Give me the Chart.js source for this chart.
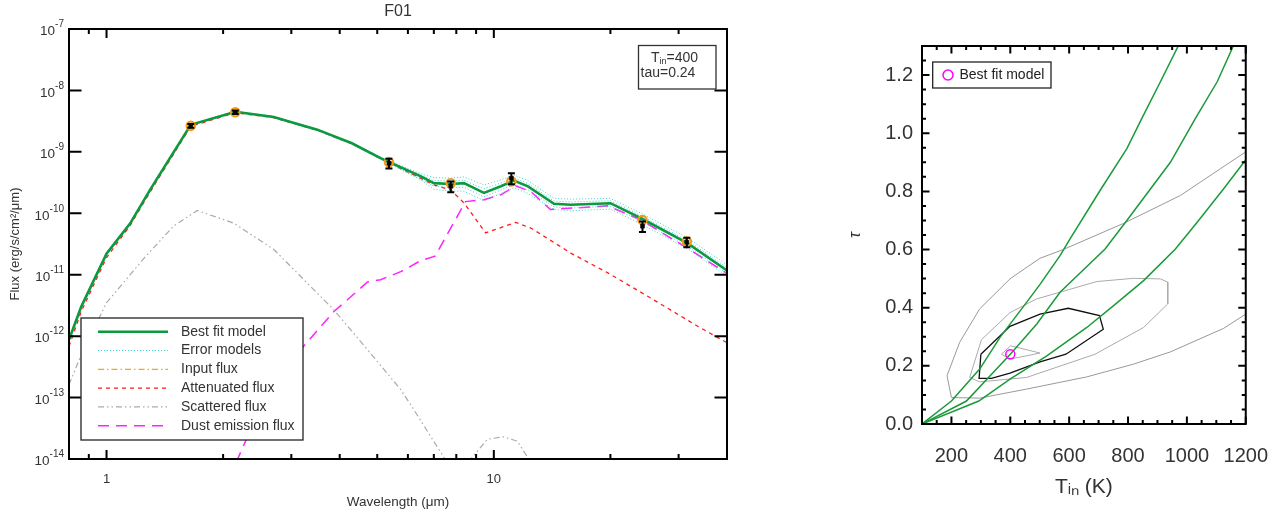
<!DOCTYPE html>
<html>
<head>
<meta charset="utf-8">
<script src="https://cdn.jsdelivr.net/npm/chart.js@4.4.0/dist/chart.umd.min.js"></script>
<style>
  body { margin: 0; background: #fff; width: 1288px; height: 512px; overflow: hidden; position: relative; }
  #sedBox { position: absolute; left: 0; top: 0; width: 740px; height: 512px; }
  #gridBox { position: absolute; left: 840px; top: 0; width: 448px; height: 512px; }
</style>
</head>
<body>
<div id="sedBox"><canvas id="sedChart" width="740" height="512"></canvas></div>
<div id="gridBox"><canvas id="gridChart" width="448" height="512"></canvas></div>
<script>
const FONT = '"Liberation Sans", Arial, sans-serif';
const TXT = '#333';

// ---- SED panel (F01) ----
// photometry: observed points and model photometry
const obsWave = [1.65, 2.15, 5.36, 7.74, 11.1, 24.2, 31.5];
const obsFlux = [2.65e-9, 4.42e-9, 6.55e-10, 2.75e-10, 3.72e-10, 6.17e-11, 3.39e-11];
const obsErr = [0.18e-9, 0.3e-9, 1.2e-10, 0.55e-10, 0.75e-10, 1.2e-11, 0.6e-11];
const modelPhot = [2.65e-9, 4.42e-9, 6.8e-10, 3.09e-10, 3.31e-10, 7.76e-11, 3.47e-11];

// best fit model and error models
const fitWave = [0.8, 0.86, 1.0, 1.15, 1.3, 1.65, 2.15, 2.7, 3.5, 4.3, 5.1, 6.48, 7.0, 7.74, 8.37, 9.43, 10.43, 11.27, 12.25, 14.3, 15.8, 20.0, 24.0, 31.6, 40];
const bestFit = [8.7e-13, 3.0e-12, 2.2e-11, 6.8e-11, 2.5e-10, 2.75e-9, 4.5e-9, 3.7e-9, 2.3e-9, 1.38e-9, 7.9e-10, 4.0e-10, 3.1e-10, 3.0e-10, 3.1e-10, 2.15e-10, 2.75e-10, 3.4e-10, 2.75e-10, 1.43e-10, 1.38e-10, 1.46e-10, 8.3e-11, 3.27e-11, 1.17e-11];
const inputFlux = [8.6e-13, 3.0e-12, 2.2e-11, 6.8e-11, 2.5e-10, 2.74e-9, 4.5e-9, 3.7e-9, 2.3e-9, 1.38e-9, 7.9e-10, 4.0e-10, 3.1e-10, 3.0e-10, 3.1e-10, 2.15e-10, 2.75e-10, 3.4e-10, 2.75e-10, 1.43e-10, 1.38e-10, 1.46e-10, 8.3e-11, 3.27e-11, 1.17e-11];
const errModel1 = [9.0e-13, 3.1e-12, 2.3e-11, 7.0e-11, 2.6e-10, 2.8e-9, 4.6e-9, 3.8e-9, 2.35e-9, 1.42e-9, 8.2e-10, 4.4e-10, 3.8e-10, 3.75e-10, 3.9e-10, 2.9e-10, 3.5e-10, 4.2e-10, 3.4e-10, 1.75e-10, 1.7e-10, 1.75e-10, 1.0e-10, 4.0e-11, 1.45e-11];
const errModel2 = [8.8e-13, 3.0e-12, 2.25e-11, 6.9e-11, 2.55e-10, 2.78e-9, 4.55e-9, 3.75e-9, 2.32e-9, 1.4e-9, 8.05e-10, 4.2e-10, 3.4e-10, 3.35e-10, 3.45e-10, 2.5e-10, 3.1e-10, 3.75e-10, 3.05e-10, 1.58e-10, 1.53e-10, 1.6e-10, 9.1e-11, 3.6e-11, 1.3e-11];
const errModel3 = [8.5e-13, 2.9e-12, 2.15e-11, 6.7e-11, 2.45e-10, 2.72e-9, 4.45e-9, 3.65e-9, 2.27e-9, 1.36e-9, 7.75e-10, 3.6e-10, 2.75e-10, 2.6e-10, 2.65e-10, 1.85e-10, 2.4e-10, 2.95e-10, 2.4e-10, 1.27e-10, 1.22e-10, 1.3e-10, 7.4e-11, 2.9e-11, 1.05e-11];
const errModel4 = [8.3e-13, 2.85e-12, 2.1e-11, 6.6e-11, 2.4e-10, 2.7e-9, 4.4e-9, 3.6e-9, 2.25e-9, 1.34e-9, 7.6e-10, 3.5e-10, 2.45e-10, 2.3e-10, 2.3e-10, 1.6e-10, 2.1e-10, 2.6e-10, 2.1e-10, 1.15e-10, 1.1e-10, 1.17e-10, 6.7e-11, 2.65e-11, 9.5e-12];

// attenuated stellar flux
const attWave = [0.8, 0.86, 1.0, 1.15, 1.3, 1.65, 2.15, 2.7, 3.5, 4.3, 5.1, 6.48, 7.0, 7.74, 8.37, 9.53, 11.38, 12.46, 15.8, 19.7, 24.9, 33.6, 40];
const attFlux = [6.8e-13, 2.5e-12, 1.9e-11, 6.3e-11, 2.3e-10, 2.6e-9, 4.35e-9, 3.6e-9, 2.25e-9, 1.35e-9, 7.8e-10, 3.7e-10, 2.9e-10, 2.4e-10, 1.48e-10, 4.8e-11, 7.1e-11, 5.75e-11, 2.25e-11, 1.07e-11, 4.5e-12, 1.45e-12, 7.8e-13];

// scattered flux
const scatWave = [0.8, 0.857, 1.0, 1.25, 1.49, 1.715, 2.13, 2.7, 3.86, 4.72, 5.75, 6.22, 7.44, 8.0, 8.72, 9.63, 10.6, 11.5, 12.3, 13.0];
const scatFlux = [1.62e-13, 4.7e-13, 3.5e-12, 1.86e-11, 6.2e-11, 1.11e-10, 6.9e-11, 2.6e-11, 2.7e-12, 6.0e-13, 1.35e-13, 6.3e-14, 1.05e-14, 4.0e-15, 1.0e-14, 2.1e-14, 2.3e-14, 1.95e-14, 1.0e-14, 4.0e-15];

// dust emission flux
const dustWave = [2.0, 2.18, 2.4, 3.17, 3.86, 4.72, 5.1, 5.75, 6.48, 7.05, 8.45, 9.43, 10.43, 11.38, 12.46, 14.0, 16.1, 19.7, 24.0, 31.6, 40];
const dustFlux = [2.5e-15, 1.0e-14, 3.9e-14, 6.0e-13, 2.5e-12, 7.6e-12, 8.3e-12, 1.12e-11, 1.7e-11, 2.0e-11, 1.55e-10, 1.66e-10, 2.0e-10, 2.8e-10, 2.26e-10, 1.15e-10, 1.22e-10, 1.32e-10, 7.8e-11, 2.7e-11, 1.05e-11];

// axes
const fluxTicks = [1e-14, 1e-13, 1e-12, 1e-11, 1e-10, 1e-9, 1e-8, 1e-7];
const fluxExps = ['-14', '-13', '-12', '-11', '-10', '-9', '-8', '-7'];
const waveTicks = [1, 10];
const waveLabels = ['1', '10'];
const waveMinor = [0.9, 2, 3, 4, 5, 6, 7, 8, 9, 20, 30];

// ---- chi2 grid panel ----
const bestT = [400];
const bestTau = [0.24];
const outerT = [1200, 1114, 978, 785, 580, 501, 450, 399, 296, 228, 185, 200, 296, 455, 660, 819, 944, 1125, 1200];
const outerTau = [0.936, 0.878, 0.786, 0.69, 0.6, 0.57, 0.535, 0.499, 0.396, 0.281, 0.166, 0.091, 0.089, 0.12, 0.162, 0.206, 0.248, 0.329, 0.378];
const midT = [262, 302, 399, 489, 694, 819, 910, 935, 935, 853, 688, 455, 296, 262];
const midTau = [0.16, 0.29, 0.383, 0.43, 0.49, 0.501, 0.499, 0.488, 0.413, 0.332, 0.24, 0.16, 0.145, 0.16];
const innerT = [300, 294, 336, 399, 501, 589, 716, 703, 597, 501, 399, 300];
const innerTau = [0.24, 0.157, 0.157, 0.175, 0.214, 0.24, 0.326, 0.373, 0.398, 0.378, 0.336, 0.24];
const smallT = [370, 401, 501, 399, 370];
const smallTau = [0.24, 0.269, 0.244, 0.223, 0.24];
const greenAT = [100, 200, 296, 365, 456, 501, 569, 603, 705, 796, 847, 910, 972];
const greenATau = [0, 0.079, 0.189, 0.298, 0.419, 0.48, 0.579, 0.637, 0.803, 0.947, 1.051, 1.177, 1.303];
const greenBT = [100, 251, 400, 490, 569, 722, 796, 944, 1029, 1103, 1159];
const greenBTau = [0, 0.079, 0.24, 0.344, 0.453, 0.602, 0.70, 0.90, 1.051, 1.177, 1.303];
const greenCT = [100, 293, 399, 524, 660, 751, 853, 961, 1035, 1125, 1199];
const greenCTau = [0, 0.079, 0.154, 0.234, 0.332, 0.407, 0.493, 0.602, 0.694, 0.809, 0.907];
const tempTicks = [200, 400, 600, 800, 1000, 1200];
const tempLabels = ['200', '400', '600', '800', '1000', '1200'];
const tempMinor = [150, 250, 300, 350, 450, 500, 550, 650, 700, 750, 850, 900, 950, 1050, 1100, 1150];
const tauTicks = [0, 0.2, 0.4, 0.6, 0.8, 1.0, 1.2];
const tauLabels = ['0.0', '0.2', '0.4', '0.6', '0.8', '1.0', '1.2'];
const tauMinor = [0.05, 0.1, 0.15, 0.25, 0.3, 0.35, 0.45, 0.5, 0.55, 0.65, 0.7, 0.75, 0.85, 0.9, 0.95, 1.05, 1.1, 1.15, 1.25];

const pts = (xs, ys) => xs.map((x, i) => ({ x: x, y: ys[i] }));

// draw a box frame with inward ticks on all four sides
function drawFrame(chart, o) {
    const { ctx, chartArea: a, scales } = chart;
    ctx.save();
    ctx.strokeStyle = '#000';
    ctx.lineWidth = 2;
    ctx.setLineDash([]);
    ctx.strokeRect(a.left, a.top, a.right - a.left, a.bottom - a.top);
    ctx.beginPath();
    const xt = (vals, len) => vals.forEach(v => {
        const px = scales.x.getPixelForValue(v);
        ctx.moveTo(px, a.bottom); ctx.lineTo(px, a.bottom - len);
        ctx.moveTo(px, a.top); ctx.lineTo(px, a.top + len);
    });
    const yt = (vals, len) => vals.forEach(v => {
        const py = scales.y.getPixelForValue(v);
        ctx.moveTo(a.left, py); ctx.lineTo(a.left + len, py);
        ctx.moveTo(a.right, py); ctx.lineTo(a.right - len, py);
    });
    xt(o.xMajor, o.xMajorLen); xt(o.xMinor, o.xMinorLen);
    yt(o.yMajor, o.yMajorLen); yt(o.yMinor, o.yMinorLen);
    ctx.stroke();
    ctx.restore();
}

const legendRows = [
    { label: 'Best fit model', color: '#0b9a3f', width: 2.6, dash: [] },
    { label: 'Error models', color: '#3fcfcf', width: 1, dash: [1, 2] },
    { label: 'Input flux', color: '#ffa500', width: 1.3, dash: [6, 3, 1.5, 3] },
    { label: 'Attenuated flux', color: '#ff1a1a', width: 1.3, dash: [4, 4] },
    { label: 'Scattered flux', color: '#aaaaaa', width: 1.2, dash: [6, 3, 1.5, 3, 1.5, 3] },
    { label: 'Dust emission flux', color: '#ff22ff', width: 1.5, dash: [11, 7] }
];

const sedExtras = {
    id: 'sedExtras',
    afterDatasetsDraw(chart) {
        const { ctx, chartArea: a, scales: { x, y } } = chart;
        ctx.save();
        // error bars on the observed points
        ctx.strokeStyle = '#000';
        ctx.lineWidth = 2;
        obsWave.forEach((w, i) => {
            const px = x.getPixelForValue(w);
            const lo = y.getPixelForValue(obsFlux[i] - obsErr[i]);
            const hi = y.getPixelForValue(obsFlux[i] + obsErr[i]);
            ctx.beginPath();
            ctx.moveTo(px, lo); ctx.lineTo(px, hi);
            ctx.moveTo(px - 3.5, lo); ctx.lineTo(px + 3.5, lo);
            ctx.moveTo(px - 3.5, hi); ctx.lineTo(px + 3.5, hi);
            ctx.stroke();
        });
        ctx.restore();

        drawFrame(chart, {
            xMajor: waveTicks, xMajorLen: 9, xMinor: waveMinor, xMinorLen: 5,
            yMajor: fluxTicks, yMajorLen: 12.5, yMinor: [], yMinorLen: 0
        });

        ctx.save();
        ctx.fillStyle = TXT;
        ctx.textBaseline = 'middle';
        // flux tick labels as 10 with a raised exponent
        fluxTicks.forEach((v, i) => {
            const py = y.getPixelForValue(v);
            ctx.font = '10px ' + FONT;
            const we = ctx.measureText(fluxExps[i]).width;
            ctx.font = '13.5px ' + FONT;
            const wb = ctx.measureText('10').width;
            const x0 = 64 - we - wb;
            ctx.textAlign = 'left';
            ctx.fillText('10', x0, py + 2.5);
            ctx.font = '10px ' + FONT;
            ctx.fillText(fluxExps[i], x0 + wb, py - 4.5);
        });

        // title
        ctx.font = '16px ' + FONT;
        ctx.textAlign = 'center';
        ctx.fillText('F01', (a.left + a.right) / 2, 12);

        // parameter box
        ctx.fillStyle = '#fff';
        ctx.fillRect(638.5, 45.5, 77.5, 43.5);
        ctx.strokeStyle = '#333';
        ctx.lineWidth = 1.3;
        ctx.strokeRect(638.5, 45.5, 77.5, 43.5);
        ctx.fillStyle = TXT;
        ctx.textAlign = 'left';
        ctx.font = '14px ' + FONT;
        let tx = 651;
        ctx.fillText('T', tx, 58);
        tx += ctx.measureText('T').width;
        ctx.font = '9px ' + FONT;
        ctx.fillText('in', tx, 62);
        tx += ctx.measureText('in').width;
        ctx.font = '14px ' + FONT;
        ctx.fillText('=400', tx, 58);
        ctx.fillText('tau=0.24', 640.5, 73);

        // legend
        ctx.fillStyle = '#fff';
        ctx.fillRect(81, 318, 222, 122);
        ctx.strokeStyle = '#222';
        ctx.lineWidth = 1.3;
        ctx.setLineDash([]);
        ctx.strokeRect(81, 318, 222, 122);
        legendRows.forEach((r, i) => {
            const ly = 331.7 + i * 18.8;
            ctx.beginPath();
            ctx.strokeStyle = r.color;
            ctx.lineWidth = r.width;
            ctx.setLineDash(r.dash);
            ctx.moveTo(98, ly); ctx.lineTo(168, ly);
            ctx.stroke();
            ctx.setLineDash([]);
            ctx.fillStyle = TXT;
            ctx.font = '14px ' + FONT;
            ctx.fillText(r.label, 181, ly);
        });
        ctx.restore();
    }
};

const lineSet = (label, xs, ys, color, width, dash) => ({
    label: label, data: pts(xs, ys), borderColor: color, borderWidth: width,
    borderDash: dash, pointRadius: 0, fill: false, tension: 0
});

new Chart(document.getElementById('sedChart'), {
    type: 'line',
    data: {
        datasets: [
            { label: 'Observed flux', data: pts(obsWave, obsFlux), showLine: false, pointStyle: 'rect',
              pointRadius: 2.8, pointBackgroundColor: '#000', pointBorderColor: '#000', pointBorderWidth: 0.5 },
            { label: 'Model photometry', data: pts(obsWave, modelPhot), showLine: false, pointStyle: 'circle',
              pointRadius: 4.2, pointBackgroundColor: 'rgba(0,0,0,0)', pointBorderColor: '#f29a1a', pointBorderWidth: 2.2 },
            lineSet('Best fit model', fitWave, bestFit, '#0b9a3f', 2.6, []),
            lineSet('Error models', fitWave, errModel1, '#3fcfcf', 1, [1, 2]),
            lineSet('Error models', fitWave, errModel2, '#3fcfcf', 1, [1, 2]),
            lineSet('Error models', fitWave, errModel3, '#3fcfcf', 1, [1, 2]),
            lineSet('Error models', fitWave, errModel4, '#3fcfcf', 1, [1, 2]),
            lineSet('Input flux', fitWave, inputFlux, '#ffa500', 1.3, [6, 3, 1.5, 3]),
            lineSet('Attenuated flux', attWave, attFlux, '#ff1a1a', 1.3, [4, 4]),
            lineSet('Scattered flux', scatWave, scatFlux, '#aaaaaa', 1.2, [6, 3, 1.5, 3, 1.5, 3]),
            lineSet('Dust emission flux', dustWave, dustFlux, '#ff22ff', 1.5, [11, 7])
        ]
    },
    options: {
        responsive: false,
        animation: false,
        events: [],
        layout: { padding: { left: 0, right: 13, top: 29, bottom: 0 } },
        plugins: { legend: { display: false }, tooltip: { enabled: false } },
        scales: {
            x: {
                type: 'logarithmic', min: 0.8, max: 40,
                afterBuildTicks: s => { s.ticks = waveTicks.map(v => ({ value: v })); },
                afterFit: s => { s.height = 53; },
                grid: { display: false, drawTicks: false },
                border: { display: false },
                ticks: { autoSkip: false, maxRotation: 0, padding: 13, color: TXT,
                         font: { family: FONT, size: 13 }, callback: (v, i) => waveLabels[i] },
                title: { display: true, text: 'Wavelength (μm)', color: TXT,
                         font: { family: FONT, size: 13.5 }, padding: { top: 0, bottom: 2 } }
            },
            y: {
                type: 'logarithmic', min: 1e-14, max: 1e-7,
                afterBuildTicks: s => { s.ticks = fluxTicks.map(v => ({ value: v })); },
                afterFit: s => { s.width = 69; },
                grid: { display: false, drawTicks: false },
                border: { display: false },
                ticks: { display: false },
                title: { display: true, text: 'Flux (erg/s/cm²/μm)', color: TXT,
                         font: { family: FONT, size: 13 }, padding: { top: 8, bottom: 0 } }
            }
        }
    },
    plugins: [sedExtras]
});

// ---- grid panel ----
const gridExtras = {
    id: 'gridExtras',
    afterDatasetsDraw(chart) {
        const ctx = chart.ctx;
        drawFrame(chart, {
            xMajor: tempTicks, xMajorLen: 7.5, xMinor: tempMinor, xMinorLen: 4,
            yMajor: tauTicks, yMajorLen: 7.5, yMinor: tauMinor, yMinorLen: 4
        });
        ctx.save();
        ctx.fillStyle = '#fff';
        ctx.fillRect(92.7, 62, 118.3, 26);
        ctx.strokeStyle = '#222';
        ctx.lineWidth = 1.3;
        ctx.strokeRect(92.7, 62, 118.3, 26);
        ctx.beginPath();
        ctx.strokeStyle = '#ff00ff';
        ctx.lineWidth = 1.5;
        ctx.arc(108, 75, 5, 0, Math.PI * 2);
        ctx.stroke();
        ctx.fillStyle = '#222';
        ctx.font = '14px ' + FONT;
        ctx.textBaseline = 'middle';
        ctx.fillText('Best fit model', 119.5, 75.5);
        ctx.restore();
    }
};

const contour = (label, xs, ys, color, width) => ({
    label: label, data: pts(xs, ys), borderColor: color, borderWidth: width,
    pointRadius: 0, fill: false, tension: 0
});

new Chart(document.getElementById('gridChart'), {
    type: 'line',
    data: {
        datasets: [
            { label: 'Best fit model', data: pts(bestT, bestTau), showLine: false, pointStyle: 'circle',
              pointRadius: 4.5, pointBackgroundColor: 'rgba(0,0,0,0)', pointBorderColor: '#ff00ff', pointBorderWidth: 1.5 },
            contour('Model track 1', greenAT, greenATau, '#1a9a3a', 1.5),
            contour('Model track 2', greenBT, greenBTau, '#1a9a3a', 1.5),
            contour('Model track 3', greenCT, greenCTau, '#1a9a3a', 1.5),
            contour('Inner contour', innerT, innerTau, '#111', 1.3),
            contour('Core contour', smallT, smallTau, '#aaa', 1),
            contour('Middle contour', midT, midTau, '#aaa', 1),
            contour('Outer contour', outerT, outerTau, '#999', 1)
        ]
    },
    options: {
        responsive: false,
        animation: false,
        events: [],
        layout: { padding: { left: 0, right: 42, top: 46, bottom: 0 } },
        plugins: { legend: { display: false }, tooltip: { enabled: false } },
        scales: {
            x: {
                type: 'linear', min: 100, max: 1200,
                afterBuildTicks: s => { s.ticks = tempTicks.map(v => ({ value: v })); },
                afterFit: s => { s.height = 88; },
                grid: { display: false, drawTicks: false },
                border: { display: false },
                ticks: { autoSkip: false, maxRotation: 0, padding: 20, color: TXT,
                         font: { family: FONT, size: 20 }, callback: (v, i) => tempLabels[i] },
                title: { display: true, text: 'Tᵢₙ (K)', color: TXT,
                         font: { family: FONT, size: 21 }, padding: { top: 0, bottom: 12 } }
            },
            y: {
                type: 'linear', min: 0, max: 1.3,
                afterBuildTicks: s => { s.ticks = tauTicks.map(v => ({ value: v })); },
                afterFit: s => { s.width = 82; },
                grid: { display: false, drawTicks: false },
                border: { display: false },
                ticks: { autoSkip: false, padding: 9, color: TXT,
                         font: { family: FONT, size: 20 }, callback: (v, i) => tauLabels[i] },
                title: { display: true, text: 'τ', color: TXT,
                         font: { family: FONT, size: 16, style: 'italic' }, padding: { top: 6, bottom: 0 } }
            }
        }
    },
    plugins: [gridExtras]
});
</script>
</body>
</html>
